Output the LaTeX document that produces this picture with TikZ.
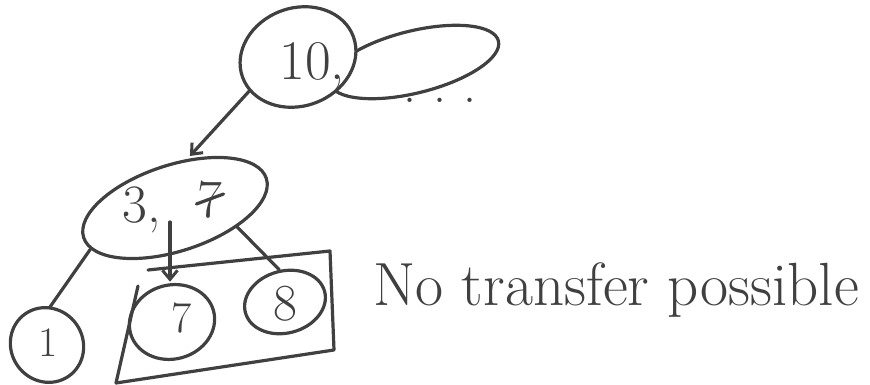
\documentclass[tikz,border=0pt]{standalone}
\usetikzlibrary{shapes.geometric,arrows.meta}
\begin{document}
\begin{tikzpicture}[x=1pt,y=-1pt,
  pen/.style={draw=black!75,line width=3.2pt,line cap=round,line join=round},
  key/.style={pen,ellipse,inner sep=0pt},
  digit/.style={text=black!75,inner sep=1pt},
  tip/.style={-{Straight Barb[length=9pt,width=15pt,line width=3pt]}}]
\useasboundingbox (0,0) rectangle (870,385);
% top node, partly hidden by its right-hand neighbour
\node[key,minimum width=174,minimum height=62,rotate=14] (rest) at (414,62) {};
\node[key,fill=white,minimum width=118,minimum height=98,rotate=20] (root) at (298,57) {};
\node[digit,font=\fontsize{56}{62}\selectfont] (ten) at (312,66) {10,};
\node[digit,font=\fontsize{52}{58}\selectfont] (more) at (440,100) {.\,\,.\,\,.};
% middle node
\node[key,minimum width=192,minimum height=86,rotate=18] (mid) at (175,208) {};
\node[digit,font=\fontsize{54}{60}\selectfont] (three) at (142,210) {3,};
\node[digit,font=\fontsize{54}{60}\selectfont] (gone) at (210,200) {7};
\draw[pen] ([yshift=-4pt]gone.west) -- ([yshift=6pt]gone.east);
% leaves
\node[key,minimum width=72,minimum height=76,rotate=35] (one) at (47,345) {};
\node[digit,font=\fontsize{42}{48}\selectfont] (onel) at (48,343) {1};
\node[key,minimum width=86,minimum height=74,rotate=15] (seven) at (172,322) {};
\node[digit,font=\fontsize{44}{50}\selectfont] (sevenl) at (182,318) {7};
\node[key,minimum width=82,minimum height=62,rotate=15] (eight) at (285,302) {};
\node[digit,font=\fontsize{52}{58}\selectfont] (eightl) at (285,304) {8};
% box round the two leaves
\draw[pen] (148,270) -- (330,251) -- (334,350) -- (116,383) -- (138,286);
\node[digit,font=\fontsize{61}{67}\selectfont] (note) at (616,290) {No transfer possible};
% edges
\coordinate (drop) at (170,222);
\draw[pen,tip,shorten >=4pt] (root.195) -- (mid.58);
\draw[pen] (mid.188) -- (one.50);
\draw[pen,tip,shorten >=3pt] (drop) -- (drop |- seven.north);
\draw[pen] (mid.325) -- (eight.85);
\end{tikzpicture}
\end{document}
